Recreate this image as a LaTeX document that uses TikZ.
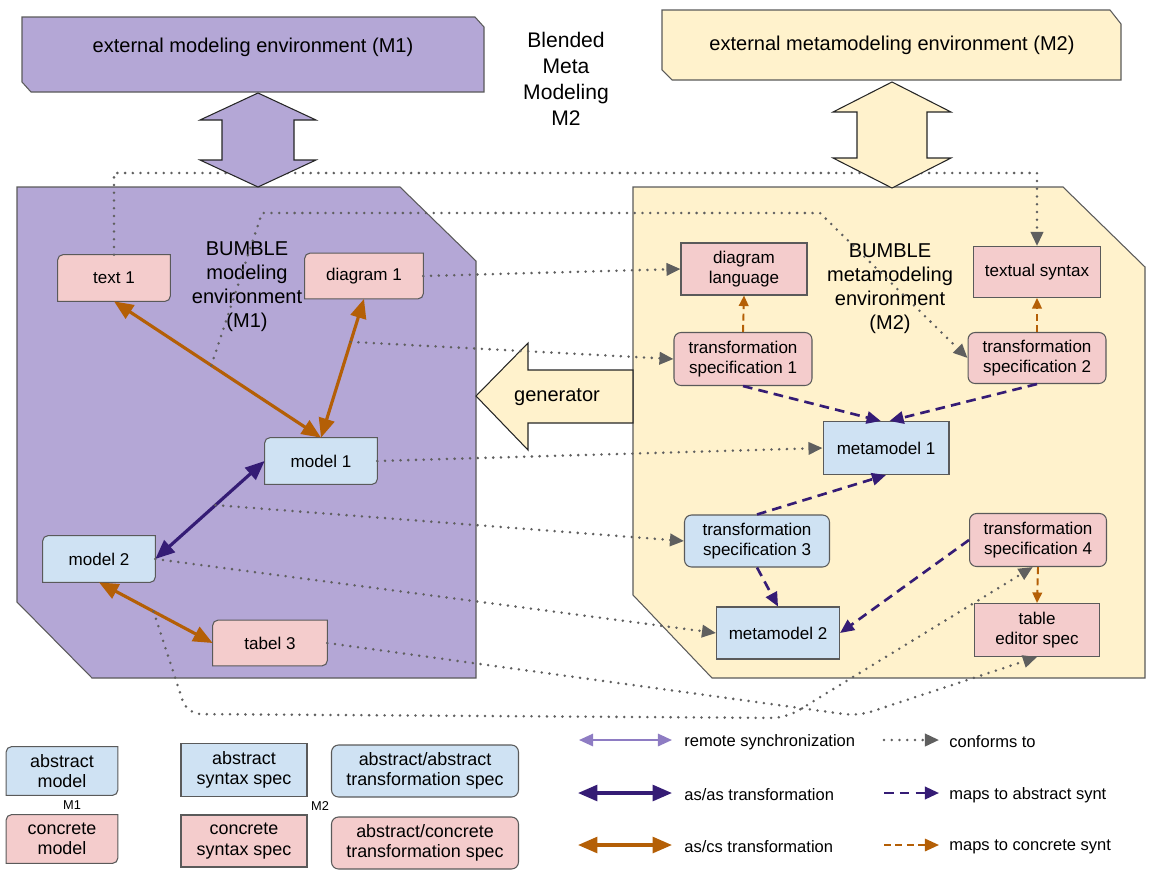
\documentclass[tikz,border=0pt]{standalone}
\usepackage{fontspec}
\setmainfont{Liberation Sans}
\usepackage{xcolor}
\usepackage{tikz}
\usetikzlibrary{arrows.meta}
\definecolor{panelpurple}{RGB}{180,167,214}
\definecolor{panelyellow}{RGB}{255,242,204}
\definecolor{boxblue}{RGB}{207,226,243}
\definecolor{boxpink}{RGB}{244,204,204}
\definecolor{ascsorange}{RGB}{180,95,6}
\definecolor{asaspurple}{RGB}{53,28,117}
\definecolor{syncpurple}{RGB}{142,124,195}
\definecolor{dotgray}{RGB}{95,95,95}
\definecolor{framegray}{RGB}{90,90,90}
\pgfdeclarelayer{panels}
\pgfdeclarelayer{frames}
\pgfsetlayers{panels,frames,main}
% box with round top-left and bottom-right corners
\newcommand{\diagframe}[2]{%
  \draw[framegray, line width=0.6pt, fill=#2] ([xshift=3pt]#1.north west) -- (#1.north east)
    -- ([yshift=3pt]#1.south east) arc[start angle=0, end angle=-90, radius=3pt]
    -- (#1.south west) -- ([yshift=-3pt]#1.north west)
    arc[start angle=180, end angle=90, radius=3pt] -- cycle;}

\begin{document}
\begin{tikzpicture}[x=0.02cm, y=-0.02cm,
  boxfont/.style={font=\fontsize{9.7}{11.5}\selectfont},
  legfont/.style={font=\fontsize{10.2}{11.7}\selectfont},
  bigfont/.style={font=\fontsize{11.4}{13.6}\selectfont},
  modelbox/.style={boxfont, align=center, inner sep=0pt, minimum width=2.24cm, minimum height=0.92cm},
  synbox/.style={boxfont, align=center, draw=framegray, line width=0.6pt, inner sep=0pt, minimum width=2.52cm, minimum height=1.04cm},
  transbox/.style={boxfont, align=center, draw=framegray, line width=0.6pt, rounded corners=4pt, inner sep=0pt, minimum width=2.76cm, minimum height=1.04cm},
  panel/.style={draw=framegray, line width=0.6pt},
  blockarrow/.style={draw=black!85, line width=0.6pt},
  conforms/.style={dotgray, line width=1.6pt, line cap=round, dash pattern=on 0pt off 4.4pt, -{Triangle[length=8pt,width=7pt]}},
  absmap/.style={asaspurple, line width=1.5pt, dash pattern=on 5.5pt off 3.5pt, -{Triangle[length=8pt,width=7pt]}},
  conmap/.style={ascsorange, line width=1.1pt, dash pattern=on 4pt off 2.5pt, -{Triangle[length=6pt,width=5.5pt]}},
  ascs/.style={ascsorange, line width=1.8pt, {Triangle[length=11pt,width=9pt]}-{Triangle[length=11pt,width=9pt]}},
  asas/.style={asaspurple, line width=1.8pt, {Triangle[length=11pt,width=9pt]}-{Triangle[length=11pt,width=9pt]}},
  sync/.style={syncpurple, line width=1.2pt, {Triangle[length=8pt,width=7pt]}-{Triangle[length=8pt,width=7pt]}},
  legtext/.style={font=\fontsize{9.4}{11}\selectfont, anchor=west, inner sep=0pt}]
\useasboundingbox (0,0) rectangle (1165,869);

% environments
\begin{pgfonlayer}{panels}
\draw[panel, fill=panelpurple] (17,187) -- (400,187) -- (476,261) -- (476,678) -- (92,678) -- (17,602) -- cycle;
\draw[panel, fill=panelyellow] (633,187) -- (1063,187) -- (1145,267) -- (1145,678) -- (712,678) -- (633,595) -- cycle;
\end{pgfonlayer}
\draw[panel, fill=panelpurple] (22,17) -- (475,17) -- (484,27) -- (484,92) -- (31,92) -- (22,82) -- cycle;
\draw[panel, fill=panelyellow] (662,10) -- (1110,10) -- (1121,24) -- (1121,80) -- (672,80) -- (662,70) -- cycle;
\node[bigfont] (extMone) at (253,47) {external modeling environment (M1)};
\node[bigfont] (extMtwo) at (892,45) {external metamodeling environment (M2)};
\node[font=\fontsize{12}{14.7}\selectfont, align=center] (blended) at (566,79) {Blended\\Meta\\Modeling\\M2};
\node[bigfont, align=center] (bumbleMone) at (247,287) {BUMBLE\\modeling\\environment\\(M1)};
\node[bigfont, align=center] (bumbleMtwo) at (890,289) {BUMBLE\\metamodeling\\environment\\(M2)};

% generator
\draw[blockarrow, fill=panelyellow] (476,396) -- (528,343) -- (528,370) -- (633,370) -- (633,423) -- (528,423) -- (528,450) -- cycle;
\node[bigfont] (gen) at (557,397) {generator};

% M1 models
\node[modelbox] (text1) at (114,278) {text 1};
\node[modelbox, minimum width=2.36cm, minimum height=0.9cm] (diag1) at (364,276) {diagram 1};
\node[modelbox] (model1) at (321,461) {model 1};
\node[modelbox] (model2) at (99,559) {model 2};
\node[modelbox, minimum width=2.28cm, minimum height=0.9cm] (tabel3) at (270,643) {tabel 3};

% M2 specs
\node[synbox, fill=boxpink] (diaglang) at (744,269) {diagram\\language};
\node[synbox, fill=boxpink, minimum width=2.54cm, minimum height=1.02cm] (textsyn) at (1037,272) {textual syntax};
\node[transbox, fill=boxpink, minimum height=1.06cm] (trans1) at (743,359) {transformation\\specification 1};
\node[transbox, fill=boxpink, minimum height=1.02cm] (trans2) at (1037,358) {transformation\\specification 2};
\node[synbox, fill=boxblue, minimum height=1.06cm] (meta1) at (886,448) {metamodel 1};
\node[transbox, fill=boxblue, minimum width=2.9cm] (trans3) at (757,541) {transformation\\specification 3};
\node[transbox, fill=boxpink, minimum width=2.74cm, minimum height=1.06cm] (trans4) at (1038,540) {transformation\\specification 4};
\node[synbox, fill=boxblue, minimum width=2.46cm] (meta2) at (778,633) {metamodel 2};
\node[synbox, fill=boxpink, minimum width=2.5cm, minimum height=1.06cm] (tableed) at (1037,630) {table\\editor spec};

% legend boxes
\node[modelbox, legfont, minimum width=2.22cm, minimum height=0.96cm] (lgabsmodel) at (62,771) {abstract\\model};
\node[modelbox, legfont, minimum width=2.22cm, minimum height=0.96cm] (lgconmodel) at (62,839) {concrete\\model};
\node[synbox, legfont, fill=boxblue, minimum height=1.06cm] (lgabssyn) at (244,770) {abstract\\syntax spec};
\node[synbox, legfont, fill=boxpink] (lgconsyn) at (244,841) {concrete\\syntax spec};
\node[transbox, legfont, fill=boxblue, minimum width=3.74cm] (lgaatrans) at (425,771) {abstract/abstract\\transformation spec};
\node[transbox, legfont, fill=boxpink, minimum width=3.74cm] (lgactrans) at (425,843) {abstract/concrete\\transformation spec};
\node[font=\fontsize{7.3}{9}\selectfont] (lgmone) at (72,805) {M1};
\node[font=\fontsize{7.3}{9}\selectfont] (lgmtwo) at (320,806) {M2};

\begin{pgfonlayer}{frames}
\diagframe{text1}{boxpink}
\diagframe{diag1}{boxpink}
\diagframe{model1}{boxblue}
\diagframe{model2}{boxblue}
\diagframe{tabel3}{boxpink}
\diagframe{lgabsmodel}{boxblue}
\diagframe{lgconmodel}{boxpink}
\end{pgfonlayer}

% transformations inside M1
\draw[ascs] (text1.south) -- (model1.north) coordinate[pos=0.47] (t1m1);
\draw[ascs] (diag1.south) -- (model1.north) coordinate[pos=0.31] (d1m1);
\draw[asas] (model1.west) -- (model2.east) coordinate[pos=0.45] (m1m2);
\draw[ascs] (model2.south) -- (tabel3.west) coordinate[pos=0.48] (m2t3);

% conforms to
\coordinate (topline) at (0,173);
\draw[conforms] (text1.north) -- (text1.north |- topline) -| (textsyn.north);
\draw[conforms] (t1m1) -- (262,213) -- (820,213) -- (trans2.west);
\draw[conforms] (diag1.east) -- (diaglang.west);
\draw[conforms] (d1m1) -- (trans1.west);
\draw[conforms] (model1.east) -- (meta1.west);
\draw[conforms] (m1m2) -- (trans3.west);
\draw[conforms] (model2.east) -- (meta2.west);
\draw[conforms, rounded corners=8pt] (m2t3) -- (187,714) -- (786,718) -- ([xshift=-3pt]trans4.south);
\draw[conforms, rounded corners=8pt] (tabel3.east) -- (858,716) -- (tableed.south);

% maps to syntax
\draw[conmap] (trans1.north) -- (diaglang.south);
\draw[conmap] (trans2.north) -- (textsyn.south);
\draw[conmap] (trans4.south) -- (tableed.north);
\draw[absmap] (trans1.south) -- ([xshift=-3pt]meta1.north);
\draw[absmap] (trans2.south) -- ([xshift=2pt]meta1.north);
\draw[absmap] (trans3.north) -- (meta1.south);
\draw[absmap] (trans3.south) -- (meta2.north);
\draw[absmap] (trans4.west) -- (meta2.east);

% synchronization with the external environments
\draw[blockarrow, fill=panelpurple] (258,93) -- (316,120) -- (294,120) -- (294,160) -- (316,160) -- (258,187) -- (200,160) -- (222,160) -- (222,120) -- (200,120) -- cycle;
\draw[blockarrow, fill=panelyellow] (892,82) -- (951,112) -- (927,112) -- (927,158) -- (951,158) -- (892,188) -- (833,158) -- (857,158) -- (857,112) -- (833,112) -- cycle;

% legend lines
\coordinate (lgsyncL) at (579,740); \coordinate (lgsyncR) at (672,740);
\coordinate (lgasasL) at (578,793); \coordinate (lgasasR) at (672,793);
\coordinate (lgascsL) at (578,845); \coordinate (lgascsR) at (672,845);
\coordinate (lgconfL) at (884,740); \coordinate (lgconfR) at (939,740);
\coordinate (lgabsL) at (884,793); \coordinate (lgabsR) at (939,793);
\coordinate (lgconL) at (884,845); \coordinate (lgconR) at (939,845);
\draw[sync] (lgsyncL) -- (lgsyncR);
\draw[asas] (lgasasL) -- (lgasasR);
\draw[ascs] (lgascsL) -- (lgascsR);
\draw[conforms] (lgconfL) -- (lgconfR);
\draw[absmap] (lgabsL) -- (lgabsR);
\draw[conmap, line width=1.3pt, -{Triangle[length=8pt,width=7pt]}] (lgconL) -- (lgconR);
\node[legtext] (lgsynctext) at (684,742) {remote synchronization};
\node[legtext] (lgasastext) at (684,795) {as/as transformation};
\node[legtext] (lgascstext) at (684,847) {as/cs transformation};
\node[legtext] (lgconftext) at (949,742) {conforms to};
\node[legtext] (lgabstext) at (949,795) {maps to abstract synt};
\node[legtext] (lgcontext) at (949,847) {maps to concrete synt};
\end{tikzpicture}
\end{document}
